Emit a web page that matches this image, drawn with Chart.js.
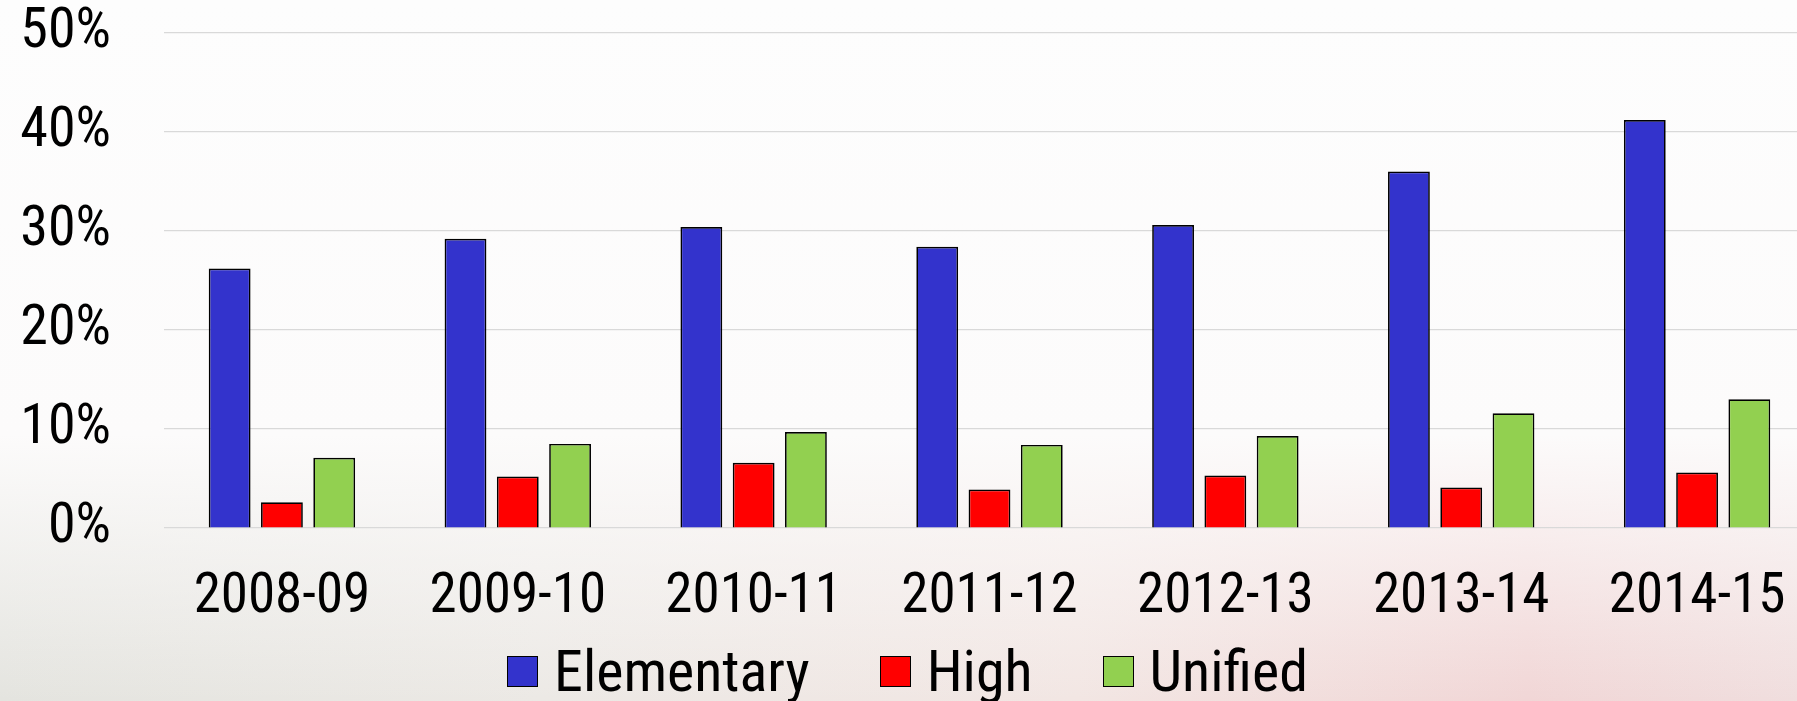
<!DOCTYPE html>
<html lang="en">
<head>
  <meta charset="UTF-8" />
  <title>Elementary / High / Unified</title>
  <script src="https://cdn.jsdelivr.net/npm/chart.js"></script>
  <style>
    html, body { margin: 0; padding: 0; overflow: hidden; }
    body {
      width: 1797px; height: 701px;
      background:
        linear-gradient(to bottom, rgba(253,253,253,1) 0%, rgba(252,251,251,1) 62%, rgba(252,250,249,0) 100%),
        linear-gradient(to right, #e4e4df 0%, #ece9e5 30%, #f2e6e3 60%, #f1d6d6 85%, #f0dede 100%);
      font-family: "Roboto Condensed", "DejaVu Sans Condensed", sans-serif;
    }
    #wrap { position: relative; width: 1815px; height: 701px; }
    #legend {
      position: absolute; left: 0; top: 641px; width: 1815px;
      display: flex; justify-content: center; align-items: center; gap: 70px;
      font-size: 58px; line-height: 60px; color: #000;
    }
    .item { display: flex; align-items: center; gap: 16px; }
    .box { width: 29px; height: 29px; border: 1.5px solid #000; }
  </style>
</head>
<body>
  <div id="wrap">
    <canvas id="chart"></canvas>
    <div id="legend"></div>
  </div>

<script>
  // datos
  const years = ["2008-09", "2009-10", "2010-11", "2011-12", "2012-13", "2013-14", "2014-15"];
  const elementary = [26.2, 29.2, 30.4, 28.4, 30.6, 36.0, 41.2];
  const high = [2.6, 5.2, 6.6, 3.9, 5.3, 4.1, 5.6];
  const unified = [7.1, 8.5, 9.7, 8.4, 9.3, 11.6, 13.0];
  const yTicks = [0, 10, 20, 30, 40, 50];

  const FONT = "'Roboto Condensed', 'DejaVu Sans Condensed', sans-serif";

  function serie(label, data, color) {
    return {
      label, data,
      backgroundColor: color,
      borderColor: '#000000',
      borderWidth: 1.7,
      categoryPercentage: 0.665,
      barPercentage: 0.80
    };
  }

  const ctx = document.getElementById("chart").getContext("2d");
  const chart = new Chart(ctx, {
    type: 'bar',
    data: {
      labels: years,
      datasets: [
        serie('Elementary', elementary, '#3333CC'),
        serie('High', high, '#FF0000'),
        serie('Unified', unified, '#92D050')
      ]
    },
    options: {
      responsive: false,
      animation: false,
      maintainAspectRatio: false,
      layout: { padding: { top: 0, right: 0, bottom: 70, left: 0 } },
      plugins: { legend: { display: false }, tooltip: { enabled: false } },
      scales: {
        x: {
          // tickLength en vez de padding, para no perder ancho a los lados
          grid: { display: false, drawTicks: true, tickLength: 38 },
          border: { display: false },
          ticks: { color: '#000', padding: 0, font: { family: FONT, size: 55, lineHeight: 1.18 } }
        },
        y: {
          min: 0, max: 50,
          afterBuildTicks: s => { s.ticks = yTicks.map(v => ({ value: v })); },
          afterFit: s => { s.width = 164; },
          grid: { color: '#d9d9d9', lineWidth: 1.3, drawTicks: true, tickLength: 53, tickColor: 'rgba(0,0,0,0)' },
          border: { display: false },
          ticks: {
            color: '#000', padding: 0,
            font: { family: FONT, size: 56, lineHeight: 1.17 },
            callback: v => v + '%'
          }
        }
      }
    }
  });

  // canvas más ancho que la ventana: el original está recortado a la derecha
  chart.resize(1815, 701);

  // leyenda
  const legend = document.getElementById("legend");
  chart.data.datasets.forEach(ds => {
    const item = document.createElement("div");
    item.className = "item";
    item.innerHTML = `<span class="box" style="background:${ds.backgroundColor}"></span><span>${ds.label}</span>`;
    legend.appendChild(item);
  });
</script>
</body>
</html>
